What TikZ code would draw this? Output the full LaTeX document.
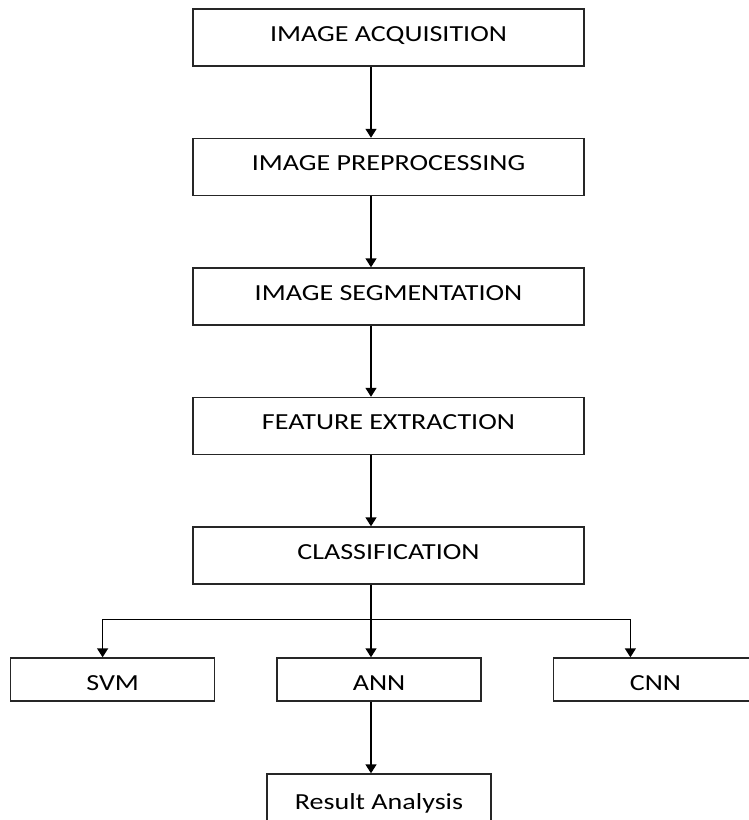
\documentclass[tikz,border=0pt]{standalone}
\usepackage{fontspec}
\setmainfont{Carlito}[FakeStretch=1.22]
\usetikzlibrary{arrows.meta}
\usetikzlibrary{positioning}
\usetikzlibrary{calc}
\tikzset{
	node distance=71.1pt,
	every node/.append style={align=center, font=\fontsize{23}{27}\selectfont},
	>={Triangle[length=9pt,width=11pt]},
	flow/.style={->, line width=1.4pt},
	stage/.style={draw=black!85,
		      line width=1.4pt,
		      minimum width=391pt,
		      minimum height=57pt,
		      text height=15pt,
		      text depth=8pt},
	algo/.style={draw=black!85,
		     line width=1.4pt,
		     minimum width=204pt,
		     minimum height=43pt,
		     text height=22pt,
		     text depth=0pt}
}

\begin{document}
\begin{tikzpicture}[x=1pt, y=-1pt]

	\clip (0,0) rectangle (749,820);

	\node [stage] (acq) at (388.5,37.5) {IMAGE ACQUISITION};
	\node [stage, below=of acq] (pre) {IMAGE PREPROCESSING};
	\node [stage, below=of pre] (seg) {IMAGE SEGMENTATION};
	\node [stage, below=of seg] (feat) {FEATURE EXTRACTION};
	\node [stage, below=of feat] (cls) {CLASSIFICATION};

	\node [algo, below=72.6pt of cls, xshift=-9.5pt] (ann) {ANN};
	\node [algo, left=61pt of ann] (svm) {SVM};
	\node [algo, right=71pt of ann] (cnn) {CNN};
	\node [algo, below=71.6pt of ann, minimum width=224pt, minimum height=56pt, text height=15pt] (res) {Result Analysis};

	% main line of the flow
	\coordinate (spine) at ($(acq.south)+(-17.5pt,0)$);
	\foreach \a/\b in {acq/pre, pre/seg, seg/feat, feat/cls}
		\draw [flow] (\a.south -| spine) -- (\b.north -| spine);

	% branches to the classifiers
	\coordinate [below=35pt of cls.south -| spine] (fork);
	\draw [flow] (cls.south -| spine) -- (ann.north -| spine);
	\draw [flow] (fork) -| ($(svm.north)+(-10pt,0)$);
	\draw [flow] (fork) -| ($(cnn.north)+(-25pt,0)$);
	\draw [flow] (ann.south -| spine) -- (res.north -| spine);

\end{tikzpicture}
\end{document}
